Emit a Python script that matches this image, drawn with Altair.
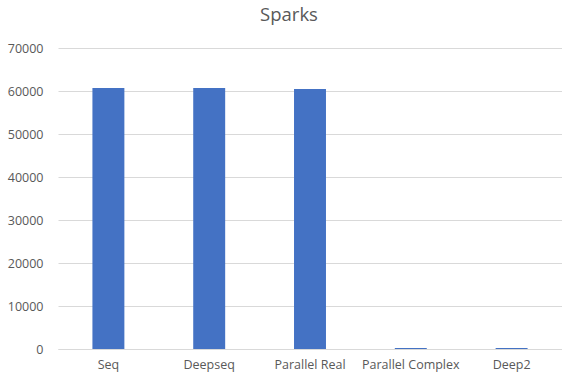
import altair as alt
import pandas as pd

categories = ["Seq", "Deepseq", "Parallel Real", "Parallel Complex", "Deep2"]
values = [60700, 60700, 60450, 250, 240]

df = pd.DataFrame({"cat": categories, "val": values})

font = "Open Sans"
grey = "#595959"

chart = alt.Chart(df).mark_bar(color="#4472C4").encode(
    x=alt.X("cat:N", sort=categories, title=None,
            scale=alt.Scale(paddingInner=0.683, paddingOuter=0.3415),
            axis=alt.Axis(labelAngle=0, labelFont=font, labelFontSize=12.5, labelColor=grey,
                          ticks=False, domainColor="#d9d9d9", labelPadding=9)),
    y=alt.Y("val:Q", title=None,
            scale=alt.Scale(domain=[0, 70000], nice=False),
            axis=alt.Axis(values=list(range(0, 70001, 10000)), format="d",
                          labelFont=font, labelFontSize=12.5, labelColor=grey,
                          ticks=False, domain=False, gridColor="#d9d9d9",
                          labelPadding=15)),
).properties(
    width=504, height=301,
    title=alt.TitleParams("Sparks", font=font, fontSize=18.5, fontWeight="normal",
                          color=grey, anchor="middle", offset=18, dx=-21),
    autosize=alt.AutoSizeParams(type="none"),
    padding={"left": 58, "top": 48, "right": 0, "bottom": 25},
).configure_view(stroke=None)

chart.save("out.html", embed_options={"renderer": "svg", "actions": False})
